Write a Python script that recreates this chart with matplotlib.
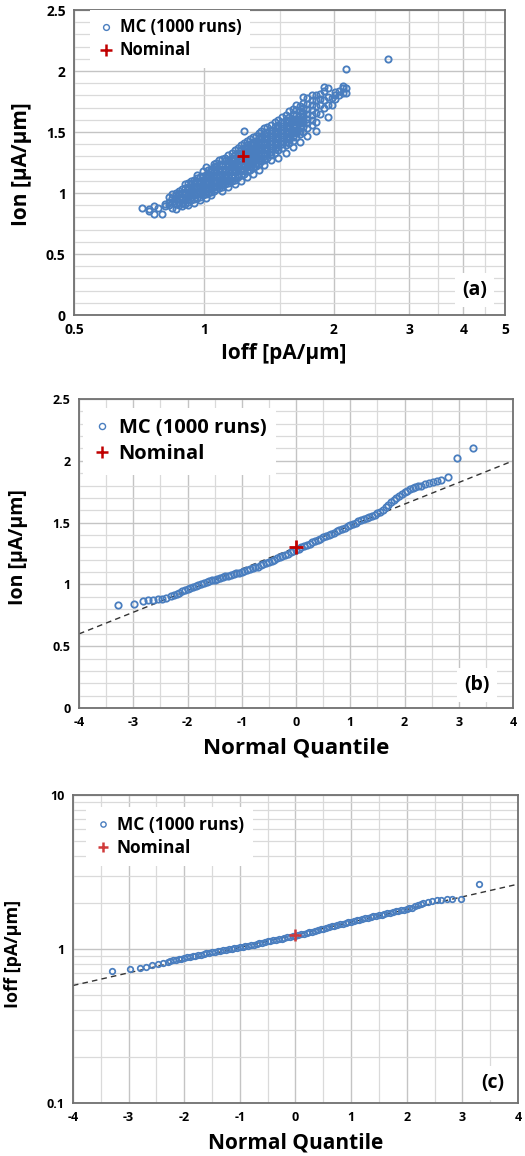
import numpy as np
import matplotlib
matplotlib.use("Agg")
import matplotlib.pyplot as plt
from matplotlib.ticker import FixedLocator, NullFormatter
from matplotlib.lines import Line2D

plt.rcParams["font.family"] = ["Open Sans", "DejaVu Sans"]
plt.rcParams["font.weight"] = "bold"
plt.rcParams["axes.labelweight"] = "bold"
plt.rcParams["axes.unicode_minus"] = False

BLUE = "#4A7EBF"
RED = "#C00000"
GRID_MIN = "#DADADA"
GRID_MAJ = "#C4C4C4"

# ---- Monte Carlo cloud: Ioff columns and the Ion values in each column ----
ioff_cols = [0.72, 0.745, 0.765, 0.785, 0.80, 0.815, 0.83, 0.845, 0.86, 0.875,
             0.89, 0.905, 0.92, 0.935, 0.95, 0.965, 0.98, 0.995, 1.01, 1.025,
             1.04, 1.055, 1.07, 1.085, 1.10, 1.12, 1.14, 1.16, 1.18, 1.20,
             1.22, 1.24, 1.26, 1.28, 1.30, 1.32, 1.34, 1.36, 1.38, 1.40,
             1.43, 1.46, 1.49, 1.52, 1.55, 1.58, 1.61, 1.64, 1.67, 1.70,
             1.74, 1.78, 1.82, 1.86, 1.90, 1.94, 1.98, 2.02, 2.06, 2.10,
             2.14, 2.68]
ion_cols = [
    [0.88], [0.87, 0.85], [0.83, 0.89], [0.88], [0.83],
    [0.89, 0.91], [0.90, 0.97, 0.93], [0.88, 0.93, 0.96, 0.99],
    [0.91, 0.95, 0.98, 1.00, 0.87], [0.90, 0.93, 0.96, 0.99, 1.02],
    [0.92, 0.95, 0.97, 1.00, 1.03, 0.89],
    [0.91, 0.94, 0.96, 0.99, 1.01, 1.04, 1.07],
    [0.93, 0.95, 0.98, 1.00, 1.03, 1.05, 1.08, 0.90],
    [0.94, 0.97, 0.99, 1.02, 1.04, 1.07, 1.10],
    [0.95, 0.98, 1.00, 1.03, 1.05, 1.08, 1.11, 0.92],
    [0.96, 0.99, 1.01, 1.04, 1.06, 1.09, 1.12, 1.15],
    [0.97, 1.00, 1.02, 1.05, 1.07, 1.10, 1.13, 0.94],
    [0.98, 1.01, 1.03, 1.06, 1.08, 1.11, 1.14, 1.18],
    [0.99, 1.02, 1.04, 1.07, 1.09, 1.12, 1.15, 1.21, 0.96],
    [1.00, 1.03, 1.05, 1.08, 1.10, 1.13, 1.16, 1.19],
    [1.01, 1.04, 1.07, 1.09, 1.12, 1.14, 1.17, 1.20, 0.98],
    [1.02, 1.05, 1.08, 1.10, 1.13, 1.15, 1.18, 1.21, 1.24],
    [1.03, 1.06, 1.09, 1.11, 1.14, 1.17, 1.19, 1.22, 1.25],
    [1.04, 1.07, 1.10, 1.13, 1.15, 1.18, 1.20, 1.23, 1.27],
    [1.05, 1.08, 1.11, 1.14, 1.16, 1.19, 1.22, 1.24, 1.28, 1.02],
    [1.07, 1.10, 1.12, 1.15, 1.18, 1.20, 1.23, 1.26, 1.29],
    [1.08, 1.11, 1.14, 1.17, 1.19, 1.22, 1.25, 1.27, 1.31, 1.05],
    [1.10, 1.13, 1.15, 1.18, 1.21, 1.24, 1.26, 1.29, 1.33],
    [1.11, 1.14, 1.17, 1.20, 1.23, 1.25, 1.28, 1.31, 1.35, 1.07],
    [1.13, 1.16, 1.19, 1.21, 1.24, 1.27, 1.30, 1.33, 1.37],
    [1.15, 1.18, 1.20, 1.23, 1.26, 1.29, 1.32, 1.35, 1.39, 1.10],
    [1.16, 1.19, 1.22, 1.25, 1.28, 1.31, 1.34, 1.37, 1.41, 1.51],
    [1.18, 1.21, 1.24, 1.27, 1.30, 1.33, 1.36, 1.39, 1.43, 1.13],
    [1.19, 1.22, 1.25, 1.28, 1.31, 1.34, 1.37, 1.40, 1.44],
    [1.21, 1.24, 1.27, 1.30, 1.33, 1.36, 1.39, 1.42, 1.46, 1.16],
    [1.22, 1.25, 1.28, 1.31, 1.34, 1.37, 1.40, 1.43, 1.47],
    [1.24, 1.27, 1.30, 1.33, 1.36, 1.39, 1.42, 1.45, 1.49, 1.19],
    [1.26, 1.29, 1.32, 1.35, 1.38, 1.41, 1.44, 1.47, 1.51],
    [1.27, 1.30, 1.33, 1.36, 1.39, 1.42, 1.45, 1.48, 1.53, 1.23],
    [1.29, 1.32, 1.35, 1.38, 1.41, 1.44, 1.47, 1.50, 1.54],
    [1.31, 1.34, 1.37, 1.40, 1.43, 1.46, 1.49, 1.52, 1.56, 1.27],
    [1.33, 1.36, 1.39, 1.42, 1.45, 1.48, 1.51, 1.54, 1.58],
    [1.35, 1.38, 1.41, 1.44, 1.47, 1.50, 1.53, 1.56, 1.60, 1.29],
    [1.37, 1.40, 1.43, 1.46, 1.49, 1.52, 1.55, 1.58, 1.62],
    [1.39, 1.42, 1.45, 1.48, 1.51, 1.54, 1.57, 1.60, 1.64, 1.33],
    [1.41, 1.44, 1.47, 1.50, 1.53, 1.56, 1.59, 1.62, 1.67],
    [1.43, 1.46, 1.49, 1.52, 1.55, 1.58, 1.61, 1.65, 1.69, 1.38],
    [1.46, 1.49, 1.52, 1.55, 1.58, 1.61, 1.64, 1.68, 1.72],
    [1.48, 1.51, 1.54, 1.57, 1.60, 1.63, 1.67, 1.71, 1.42],
    [1.50, 1.54, 1.57, 1.60, 1.63, 1.66, 1.70, 1.74, 1.79],
    [1.53, 1.57, 1.61, 1.65, 1.69, 1.73, 1.78, 1.47],
    [1.56, 1.60, 1.64, 1.68, 1.72, 1.76, 1.80],
    [1.58, 1.66, 1.71, 1.76, 1.80, 1.51],
    [1.65, 1.72, 1.77, 1.81],
    [1.70, 1.76, 1.84, 1.87],
    [1.62, 1.72, 1.79, 1.86],
    [1.72, 1.78],
    [1.77, 1.80, 1.83],
    [1.80, 1.84],
    [1.82, 1.86, 1.88],
    [1.82, 1.86, 2.02],
    [2.10],
]
nominal_ioff = 1.23
nominal_ion = 1.30

# ---- normal quantile plot of Ion ----
q_ion = [-3.29, -2.98, -2.82, -2.72, -2.63, -2.55, -2.47, -2.39,
         -2.30, -2.25, -2.20, -2.15, -2.10, -2.05, -2.00, -1.95, -1.90, -1.85,
         -1.80, -1.75, -1.70, -1.65, -1.60, -1.55, -1.50, -1.45, -1.40, -1.35,
         -1.30, -1.25, -1.20, -1.15, -1.10, -1.05, -1.00, -0.95, -0.90, -0.85,
         -0.80, -0.75, -0.70, -0.65, -0.60, -0.55, -0.50, -0.45, -0.40, -0.35,
         -0.30, -0.25, -0.20, -0.15, -0.10, -0.05, 0.00, 0.05, 0.10, 0.15,
         0.20, 0.25, 0.30, 0.35, 0.40, 0.45, 0.50, 0.55, 0.60, 0.65,
         0.70, 0.75, 0.80, 0.85, 0.90, 0.95, 1.00, 1.05, 1.10, 1.15,
         1.20, 1.25, 1.30, 1.35, 1.40, 1.45, 1.50, 1.55, 1.60, 1.65,
         1.70, 1.75, 1.80, 1.85, 1.90, 1.95, 2.00, 2.05, 2.10, 2.15,
         2.20, 2.25, 2.30,
         2.38, 2.45, 2.52, 2.60, 2.68, 2.80, 2.96, 3.27]
ion_sorted = [0.835, 0.84, 0.868, 0.875, 0.878, 0.88, 0.885, 0.89,
              0.905, 0.912, 0.92, 0.932, 0.945, 0.955, 0.965, 0.972, 0.98, 0.988,
              0.995, 1.003, 1.01, 1.02, 1.03, 1.035, 1.04, 1.045, 1.05, 1.058,
              1.065, 1.07, 1.075, 1.083, 1.09, 1.095, 1.10, 1.108, 1.115, 1.122,
              1.13, 1.138, 1.145, 1.155, 1.165, 1.175, 1.185, 1.192, 1.20, 1.21,
              1.22, 1.23, 1.24, 1.25, 1.26, 1.27, 1.28, 1.29, 1.30, 1.31,
              1.32, 1.33, 1.34, 1.35, 1.36, 1.37, 1.38, 1.39, 1.40, 1.41,
              1.42, 1.43, 1.44, 1.45, 1.46, 1.47, 1.48, 1.49, 1.50, 1.51,
              1.52, 1.53, 1.54, 1.548, 1.555, 1.565, 1.575, 1.59, 1.605, 1.625,
              1.645, 1.665, 1.685, 1.70, 1.715, 1.73, 1.745, 1.758, 1.77, 1.78,
              1.79, 1.795, 1.80,
              1.81, 1.82, 1.83, 1.835, 1.845, 1.87, 2.02, 2.10]
ion_fit_q = [-4, 4]
ion_fit = [0.60, 2.00]

# ---- normal quantile plot of Ioff ----
q_ioff = [-3.29, -2.97, -2.80, -2.68, -2.58, -2.48, -2.39,
          -2.30, -2.25, -2.20, -2.15, -2.10, -2.05, -2.00, -1.95, -1.90, -1.85,
          -1.80, -1.75, -1.70, -1.65, -1.60, -1.55, -1.50, -1.45, -1.40, -1.35,
          -1.30, -1.25, -1.20, -1.15, -1.10, -1.05, -1.00, -0.95, -0.90, -0.85,
          -0.80, -0.75, -0.70, -0.65, -0.60, -0.55, -0.50, -0.45, -0.40, -0.35,
          -0.30, -0.25, -0.20, -0.15, -0.10, -0.05, 0.00, 0.05, 0.10, 0.15,
          0.20, 0.25, 0.30, 0.35, 0.40, 0.45, 0.50, 0.55, 0.60, 0.65,
          0.70, 0.75, 0.80, 0.85, 0.90, 0.95, 1.00, 1.05, 1.10, 1.15,
          1.20, 1.25, 1.30, 1.35, 1.40, 1.45, 1.50, 1.55, 1.60, 1.65,
          1.70, 1.75, 1.80, 1.85, 1.90, 1.95, 2.00, 2.05, 2.10, 2.15,
          2.20, 2.25, 2.30,
          2.38, 2.46, 2.54, 2.62, 2.72, 2.82, 2.97, 3.30]
ioff_sorted = [0.72, 0.74, 0.757, 0.765, 0.785, 0.80, 0.815,
               0.83, 0.838, 0.845, 0.852, 0.86, 0.868, 0.875, 0.882, 0.89, 0.898,
               0.905, 0.912, 0.92, 0.93, 0.94, 0.948, 0.955, 0.962, 0.97, 0.978,
               0.985, 0.992, 1.00, 1.008, 1.015, 1.022, 1.03, 1.038, 1.045, 1.052,
               1.06, 1.07, 1.08, 1.09, 1.10, 1.11, 1.12, 1.13, 1.14, 1.15,
               1.16, 1.17, 1.18, 1.19, 1.20, 1.21, 1.22, 1.232, 1.245, 1.258,
               1.27, 1.285, 1.30, 1.315, 1.33, 1.345, 1.36, 1.375, 1.39, 1.405,
               1.42, 1.435, 1.45, 1.465, 1.48, 1.495, 1.51, 1.525, 1.54, 1.555,
               1.57, 1.585, 1.60, 1.615, 1.63, 1.645, 1.66, 1.675, 1.69, 1.705,
               1.72, 1.74, 1.76, 1.775, 1.79, 1.805, 1.82, 1.84, 1.86, 1.90,
               1.94, 1.97, 2.00,
               2.03, 2.05, 2.07, 2.09, 2.12, 2.13, 2.13, 2.66]
ioff_fit_q = [-4, 4]
ioff_fit = [0.58, 2.64]
nominal_ioff_c = 1.23

legend_labels = ["MC (1000 runs)", "Nominal"]


def style(ax, tick_fs):
    for s in ax.spines.values():
        s.set_color("#707070")
        s.set_linewidth(1.3)
    ax.tick_params(which="both", length=0, labelsize=tick_fs, pad=6)
    ax.set_axisbelow(True)
    ax.grid(which="minor", color=GRID_MIN, lw=0.9)
    ax.grid(which="major", color=GRID_MAJ, lw=1.0)


def add_legend(ax, fs, ms, anchor, red=RED):
    h = [Line2D([], [], marker="o", ls="none", mfc="none", mec=BLUE, ms=ms, mew=1.0),
         Line2D([], [], marker="+", ls="none", color=red, ms=ms * 2, mew=1.8)]
    leg = ax.legend(h, legend_labels, loc="upper left", bbox_to_anchor=anchor,
                    fontsize=fs, frameon=True, fancybox=False, framealpha=1,
                    edgecolor="white", facecolor="white", handlelength=0.9,
                    handletextpad=0.35, labelspacing=0.3, borderpad=0.5,
                    borderaxespad=0)
    leg.get_frame().set_linewidth(0)


def panel_tag(ax, txt, x, y, fs):
    ax.text(x, y, txt, transform=ax.transAxes, ha="center", va="center",
            fontsize=fs, fontweight="bold",
            bbox=dict(facecolor="white", edgecolor="none", pad=5))


fig = plt.figure(figsize=(5.25, 11.56), dpi=100)

# ---------------- (a) Ion vs Ioff ----------------
ax = fig.add_axes([0.141, 0.7275, 0.821, 0.2638])
style(ax, 10)
ioff_mc = np.concatenate([[x] * len(v) for x, v in zip(ioff_cols, ion_cols)])
ion_mc = np.concatenate(ion_cols)
ax.plot(ioff_mc, ion_mc, "o", mfc="none", mec=BLUE, ms=4.5, mew=1.35)
ax.plot([nominal_ioff], [nominal_ion], "+", color=RED, ms=9, mew=2)
ax.set_xscale("log")
ax.set_xlim(0.5, 5)
ax.set_ylim(0, 2.5)
ax.xaxis.set_major_locator(FixedLocator([0.5, 1, 2, 3, 4, 5]))
ax.xaxis.set_minor_locator(FixedLocator([1.5, 2.5, 3.5, 4.5]))
ax.xaxis.set_minor_formatter(NullFormatter())
ax.set_xticklabels(["0.5", "1", "2", "3", "4", "5"])
ax.set_yticks([0, 0.5, 1, 1.5, 2, 2.5])
ax.set_yticklabels(["0", "0.5", "1", "1.5", "2", "2.5"])
ax.yaxis.set_minor_locator(FixedLocator(np.arange(0.1, 2.5, 0.1)))
ax.set_xlabel("Ioff [pA/µm]", fontsize=15, va="center")
ax.xaxis.set_label_coords(0.487, -0.125)
ax.set_ylabel("Ion [µA/µm]", fontsize=15, va="center")
ax.yaxis.set_label_coords(-0.121, 0.495)
add_legend(ax, 12, 4.2, (0.038, 1.0))
panel_tag(ax, "(a)", 0.93, 0.082, 14)

# ---------------- (b) Ion normal quantile ----------------
ax = fig.add_axes([0.1505, 0.3875, 0.8267, 0.2673])
style(ax, 9)
ax.plot(ion_fit_q, ion_fit, ls=(0, (4, 3)), color="#333333", lw=1.0)
ax.plot(q_ion, ion_sorted, "o", mfc="none", mec=BLUE, ms=4.6, mew=1.3)
ax.plot([0], [nominal_ion], "+", color=RED, ms=10, mew=2)
ax.set_xlim(-4, 4)
ax.set_ylim(0, 2.5)
ax.set_xticks(range(-4, 5))
ax.xaxis.set_minor_locator(FixedLocator(np.arange(-3.5, 4, 1.0)))
ax.set_yticks([0, 0.5, 1, 1.5, 2, 2.5])
ax.set_yticklabels(["0", "0.5", "1", "1.5", "2", "2.5"])
ax.yaxis.set_minor_locator(FixedLocator(np.arange(0.1, 2.5, 0.1)))
ax.set_xlabel("Normal Quantile", fontsize=16, va="center")
ax.xaxis.set_label_coords(0.5, -0.13)
ax.set_ylabel("Ion [µA/µm]", fontsize=14, va="center")
ax.yaxis.set_label_coords(-0.14, 0.52)
add_legend(ax, 14.5, 4.4, (0.01, 0.97))
panel_tag(ax, "(b)", 0.917, 0.074, 14)

# ---------------- (c) Ioff normal quantile ----------------
ax = fig.add_axes([0.139, 0.0458, 0.8476, 0.2664])
style(ax, 9)
ax.plot(ioff_fit_q, ioff_fit, ls=(0, (4, 3)), color="#333333", lw=1.0)
ax.plot(q_ioff, ioff_sorted, "o", mfc="none", mec=BLUE, ms=4.0, mew=1.25)
ax.plot([0], [nominal_ioff_c], "+", color="#D03A3A", ms=9, mew=1.8)
ax.set_yscale("log")
ax.set_xlim(-4, 4)
ax.set_ylim(0.1, 10)
ax.set_xticks(range(-4, 5))
ax.xaxis.set_minor_locator(FixedLocator(np.arange(-3.5, 4, 1.0)))
ax.yaxis.set_major_locator(FixedLocator([0.1, 1, 10]))
ax.set_yticklabels(["0.1", "1", "10"])
ax.yaxis.set_minor_locator(FixedLocator([m * d for d in (0.1, 1) for m in range(2, 10)]))
ax.yaxis.set_minor_formatter(NullFormatter())
ax.set_xlabel("Normal Quantile", fontsize=15, va="center")
ax.xaxis.set_label_coords(0.5, -0.13)
ax.set_ylabel("Ioff [pA/µm]", fontsize=13, va="center")
ax.yaxis.set_label_coords(-0.135, 0.484)
add_legend(ax, 12.5, 3.8, (0.03, 0.96), red="#D03A3A")
panel_tag(ax, "(c)", 0.944, 0.065, 14)

fig.savefig("out.png", dpi=100)
